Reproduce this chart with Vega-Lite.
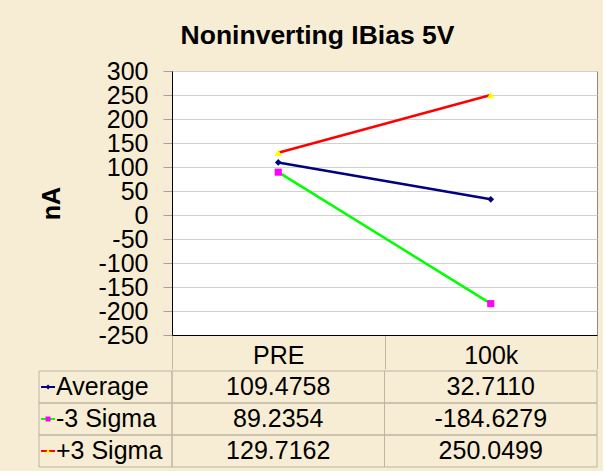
{
  "$schema": "https://vega.github.io/schema/vega-lite/v6.json",
  "background": "#f7edd4",
  "padding": {"left": 37, "top": 23, "right": 5, "bottom": 3},
  "config": {"font": "Liberation Sans", "view": {"stroke": null}},
  "title": {"text": "Noninverting IBias 5V", "fontSize": 26.5, "fontWeight": "bold", "font": "Liberation Sans", "anchor": "middle", "frame": "bounds", "color": "black", "offset": 9},
  "datasets": {
    "ib": [
      {"stat": "Average", "cond": "PRE", "value": 109.4758},
      {"stat": "Average", "cond": "100k", "value": 32.7110},
      {"stat": "-3 Sigma", "cond": "PRE", "value": 89.2354},
      {"stat": "-3 Sigma", "cond": "100k", "value": -184.6279},
      {"stat": "+3 Sigma", "cond": "PRE", "value": 129.7162},
      {"stat": "+3 Sigma", "cond": "100k", "value": 250.0499}
    ]
  },
  "spacing": 0,
  "resolve": {"scale": {"x": "independent", "y": "independent"}},
  "vconcat": [
    {
      "width": 425,
      "height": 264,
      "view": {"fill": "white", "stroke": "#8a8a8a"},
      "data": {"name": "ib"},
      "encoding": {
        "x": {
          "field": "cond", "type": "nominal",
          "scale": {"type": "band", "domain": ["PRE", "100k"], "paddingInner": 0, "paddingOuter": 0},
          "axis": {"title": null, "labelAngle": 0, "labelFontSize": 25, "labelColor": "black", "labelPadding": -26, "tickSize": 34, "tickBand": "extent", "tickColor": "#bdb5a5", "domainColor": "black", "domainWidth": 1, "grid": false}
        },
        "y": {
          "field": "value", "type": "quantitative",
          "scale": {"domain": [-250, 300], "nice": false, "zero": false},
          "axis": {"title": "nA", "titleFontSize": 25, "titleFontWeight": "bold", "titleColor": "black", "titlePadding": 34, "values": [-250, -200, -150, -100, -50, 0, 50, 100, 150, 200, 250, 300], "labelOverlap": false, "labelExpr": "replace(datum.label, '\u2212', '-')", "labelFontSize": 25, "labelColor": "black", "labelPadding": 15, "tickSize": 9, "tickColor": "#a0a0a0", "gridColor": "#d0d0d0", "domainColor": "black", "minExtent": 74, "maxExtent": 74}
        }
      },
      "layer": [
        {
          "mark": {"type": "line", "strokeWidth": 2.5},
          "encoding": {
            "color": {"field": "stat", "type": "nominal", "scale": {"domain": ["Average", "-3 Sigma", "+3 Sigma"], "range": ["#000080", "#00ff00", "#ff0000"]}, "legend": null}
          }
        },
        {
          "mark": {"type": "point", "filled": true, "opacity": 1},
          "encoding": {
            "fill": {"field": "stat", "type": "nominal", "scale": {"domain": ["Average", "-3 Sigma", "+3 Sigma"], "range": ["#000080", "#ff00ff", "#ffff00"]}, "legend": null},
            "shape": {"field": "stat", "type": "nominal", "scale": {"domain": ["Average", "-3 Sigma", "+3 Sigma"], "range": ["diamond", "square", "triangle-up"]}, "legend": null},
            "size": {"field": "stat", "type": "nominal", "scale": {"domain": ["Average", "-3 Sigma", "+3 Sigma"], "range": [45, 56, 70]}, "legend": null}
          }
        }
      ]
    },
    {
      "width": 425,
      "height": 96,
      "data": {"name": "ib"},
      "transform": [{"calculate": "replace(format(datum.value, '.4f'), '\u2212', '-')", "as": "txt"}],
      "encoding": {
        "y": {"field": "stat", "type": "nominal", "scale": {"domain": ["Average", "-3 Sigma", "+3 Sigma"], "paddingInner": 0, "paddingOuter": 0}, "axis": null}
      },
      "resolve": {"scale": {"x": "independent"}},
      "layer": [
        {
          "encoding": {
            "x": {"field": "cond", "type": "nominal", "scale": {"type": "band", "domain": ["PRE", "100k"], "paddingInner": 0, "paddingOuter": 0}, "axis": null}
          },
          "layer": [
            {"mark": {"type": "rect", "fill": "transparent", "stroke": "#bdb5a5", "strokeWidth": 1}},
            {"mark": {"type": "text", "fontSize": 25, "color": "black"}, "encoding": {"text": {"field": "txt"}}}
          ]
        },
        {
          "transform": [{"filter": "datum.cond === 'PRE'"}],
          "encoding": {"x": {"datum": "names", "type": "nominal", "scale": {"type": "band", "domain": ["names"], "range": [-133, 0], "paddingInner": 0, "paddingOuter": 0}, "axis": null}},
          "layer": [
            {
              "mark": {"type": "rect", "fill": "transparent", "stroke": "#bdb5a5", "strokeWidth": 1}
            },
            {
              "mark": {"type": "text", "fontSize": 25, "color": "black", "align": "left", "dx": 17},
              "encoding": {
                "x": {"datum": "names", "type": "nominal", "bandPosition": 0},
                "text": {"field": "stat"}
              }
            },
            {
              "mark": {"type": "point", "shape": "stroke", "filled": false, "strokeWidth": 2, "opacity": 1, "size": 196},
              "encoding": {
                "x": {"datum": "names", "type": "nominal", "bandPosition": 0.068},
                "stroke": {"field": "stat", "type": "nominal", "scale": {"domain": ["Average", "-3 Sigma", "+3 Sigma"], "range": ["#000080", "#00ff00", "#ff0000"]}, "legend": null}
              }
            },
            {
              "mark": {"type": "point", "filled": true, "opacity": 1},
              "encoding": {
                "x": {"datum": "names", "type": "nominal", "bandPosition": 0.068},
                "fill": {"field": "stat", "type": "nominal", "scale": {"domain": ["Average", "-3 Sigma", "+3 Sigma"], "range": ["#000080", "#ff00ff", "#ffff00"]}, "legend": null},
                "shape": {"field": "stat", "type": "nominal", "scale": {"domain": ["Average", "-3 Sigma", "+3 Sigma"], "range": ["diamond", "square", "triangle-up"]}, "legend": null},
                "size": {"value": 25}
              }
            }
          ]
        }
      ]
    }
  ]
}
